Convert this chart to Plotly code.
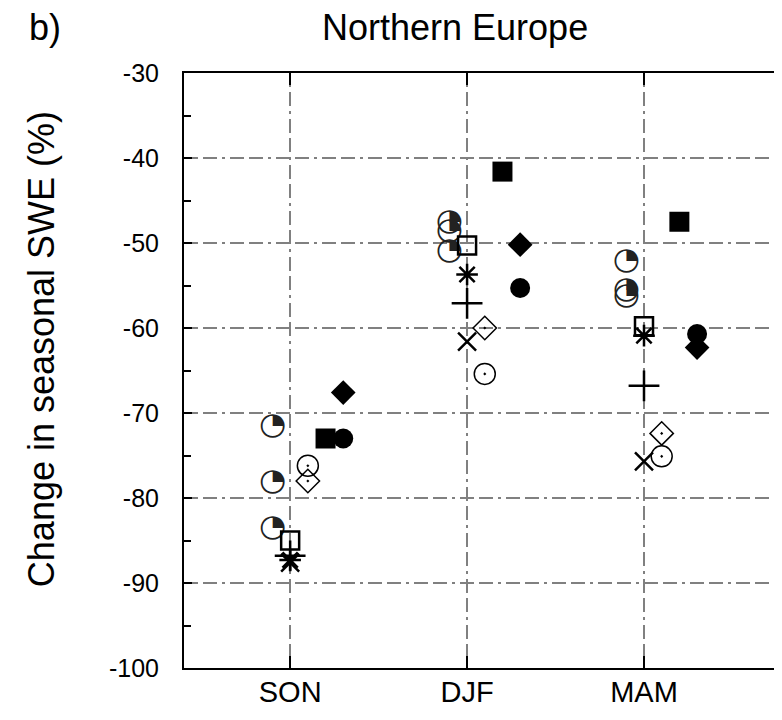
import plotly.graph_objects as go

# ---- data ----
seasons = ["SON", "DJF", "MAM"]
qc1 = [-71.5, -47.6, -52.2]
qc2 = [-78.1, -48.6, -55.5]
qc3 = [-83.5, -51.0, -56.3]
open_square = [-85.0, -50.3, -59.8]
asterisk = [-87.3, -53.7, -60.9]
plus = [-86.8, -57.1, -66.8]
cross_x = [-87.6, -61.6, -75.7]
dot_circle = [-76.2, -65.4, -75.1]
dot_diamond = [-78.0, -60.0, -72.4]
filled_square = [-73.0, -41.6, -47.5]
filled_circle = [-73.0, -55.3, -60.7]
filled_diamond = [-67.6, -50.2, -62.3]
y_ticks = [-100, -90, -80, -70, -60, -50, -40, -30]
y_tick_labels = ["-100", "-90", "-80", "-70", "-60", "-50", "-40", "-30"]

base = [1, 2, 3]


def xs(off):
    return [b + off for b in base]


fig = go.Figure()
FONT = "Liberation Sans, Arial, sans-serif"


def add_marker(vals, off, symbol, size, lw=2, color="black"):
    fig.add_trace(go.Scatter(
        x=xs(off), y=vals, mode="markers",
        marker=dict(symbol=symbol, size=size, color=color,
                    line=dict(color=color, width=lw)),
        showlegend=False, hoverinfo="skip"))


# quarter-filled circles as glyphs
for vals in (qc1, qc2, qc3):
    fig.add_trace(go.Scatter(
        x=xs(-0.1), y=vals, mode="text", text=["◔"] * 3,
        textposition="middle center",
        textfont=dict(family="DejaVu Sans", size=31, color="#222222"),
        showlegend=False, hoverinfo="skip"))

add_marker(dot_circle, 0.1, "circle-open-dot", 21, lw=1.5)
add_marker(dot_diamond, 0.1, "diamond-open-dot", 18, lw=1.5)
add_marker(plus, 0.0, "cross-thin-open", 22, lw=2.5)
add_marker(cross_x, 0.0, "x-thin-open", 18, lw=2.5)
add_marker(asterisk, 0.0, "asterisk-open", 18, lw=2.5)
add_marker(open_square, 0.0, "square-open", 18, lw=2.5)
add_marker(filled_square, 0.2, "square", 20, lw=0)
add_marker(filled_circle, 0.3, "circle", 20, lw=0)
add_marker(filled_diamond, 0.3, "diamond", 19, lw=0)

grid_dash = "14px,5px,14px,5px,3px,5px"

fig.update_xaxes(
    range=[0.4, 3.78], tickvals=base, ticktext=seasons, automargin=False,
    showline=True, linecolor="black", linewidth=2, mirror="ticks",
    ticks="inside", ticklen=12, tickwidth=2, tickcolor="black",
    showgrid=True, gridcolor="#808080", gridwidth=2, griddash=grid_dash,
    zeroline=False, ticklabelstandoff=-3,
    tickfont=dict(family=FONT, size=29, color="black"))
fig.update_yaxes(
    range=[-100, -30], tickvals=y_ticks, ticktext=y_tick_labels,
    automargin=False,
    showline=True, linecolor="black", linewidth=2, mirror="ticks",
    ticks="inside", ticklen=8, tickwidth=2, tickcolor="black",
    minor=dict(dtick=5, ticks="inside", ticklen=7, tickwidth=2,
               tickcolor="black", showgrid=False),
    showgrid=True, gridcolor="#808080", gridwidth=2, griddash=grid_dash,
    zeroline=False, ticklabelstandoff=18,
    tickfont=dict(family=FONT, size=25, color="black"))

fig.update_layout(
    width=774, height=704,
    margin=dict(l=176, r=0, t=65, b=44, autoexpand=False),
    paper_bgcolor="white", plot_bgcolor="white",
    annotations=[
        dict(text="Northern Europe", x=0.453, y=1.077, xref="paper", yref="paper",
             xanchor="center", yanchor="middle",
             showarrow=False, font=dict(family=FONT, size=36, color="black")),
        dict(text="b)", x=-0.232, y=1.077, xref="paper", yref="paper",
             xanchor="center", yanchor="middle",
             showarrow=False, font=dict(family=FONT, size=36, color="black")),
        dict(text="Change in seasonal SWE (%)", x=-0.239, y=0.536,
             xref="paper", yref="paper", textangle=-90, showarrow=False,
             xanchor="center", yanchor="middle",
             font=dict(family=FONT, size=36, color="black")),
    ])

fig.write_html("out.html")
